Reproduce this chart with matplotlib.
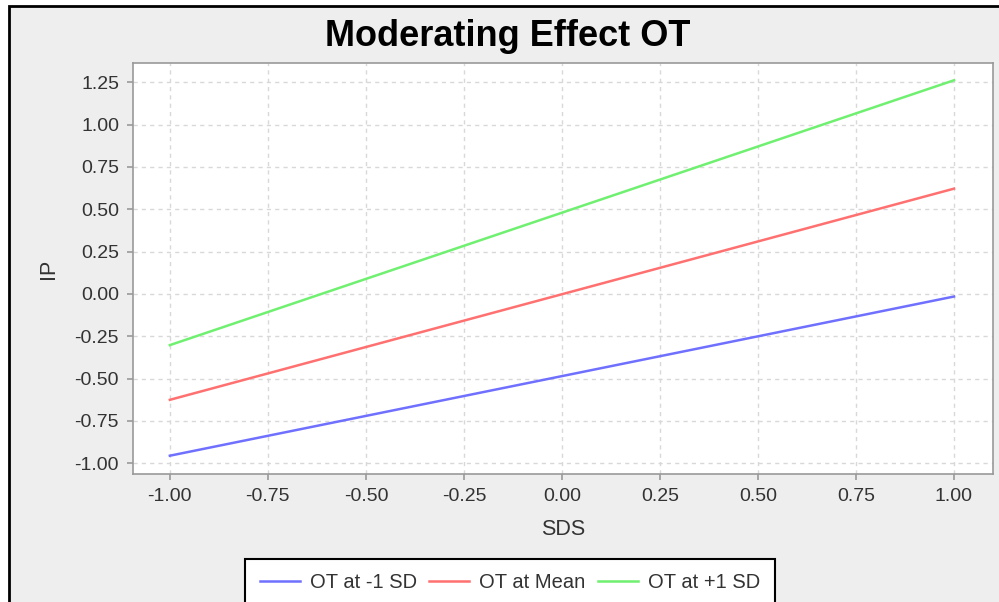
import matplotlib
matplotlib.use("Agg")
import matplotlib.pyplot as plt
from matplotlib.patches import Rectangle

plt.rcParams['font.family'] = ['Liberation Sans', 'DejaVu Sans']

# Data
sds = [-1.0, 1.0]
ot_minus = [-0.955, -0.015]
ot_mean = [-0.625, 0.622]
ot_plus = [-0.302, 1.262]
series_labels = ["OT at -1 SD", "OT at Mean", "OT at +1 SD"]
xticks = [-1.00, -0.75, -0.50, -0.25, 0.00, 0.25, 0.50, 0.75, 1.00]
yticks = [-1.00, -0.75, -0.50, -0.25, 0.00, 0.25, 0.50, 0.75, 1.00, 1.25]

W, H = 999, 602
fig = plt.figure(figsize=(W / 100, H / 100), dpi=100, facecolor='white')

# chart background panel with black border
fig.patches.append(Rectangle((9 / W, -0.1), 1.1, 1 - 6 / H + 0.1,
                             transform=fig.transFigure, facecolor='#eeeeee',
                             edgecolor='black', linewidth=2.0, zorder=-10))

ax = fig.add_axes([133 / W, 1 - 474 / H, (993 - 133) / W, (474 - 63) / H])
ax.set_zorder(1)
ax.set_facecolor('white')

colors = ['#7070ff', '#ff7070', '#70f070']
for ys, lab, c in zip([ot_minus, ot_mean, ot_plus], series_labels, colors):
    ax.plot(sds, ys, color=c, linewidth=1.8, label=lab)

ax.set_xlim(-1.094, 1.0995)
ax.set_ylim(-1.063, 1.364)
ax.set_xticks(xticks)
ax.set_yticks(yticks)
ax.set_xticklabels([f"{v:.2f}" for v in xticks])
ax.set_yticklabels([f"{v:.2f}" for v in yticks])

ax.grid(True, color='#d8d8d8', linestyle=(0, (3, 3)), linewidth=1.0)
ax.set_axisbelow(True)
for s in ax.spines.values():
    s.set_color('#999999')
    s.set_linewidth(1.2)
ax.tick_params(axis='both', colors='#999999', labelcolor='#333333',
               labelsize=14, length=4, width=1.2, direction='out', pad=6)

ax.set_xlabel("SDS", fontsize=15.5, color='#333333', labelpad=10)
ax.set_ylabel("IP", fontsize=15.5, color='#333333', labelpad=11)

fig.text(508 / W, 1 - 32 / H, "Moderating Effect OT", ha='center', va='center_baseline',
         fontsize=26, fontweight='bold', color='black')

leg = fig.legend(loc='upper center', bbox_to_anchor=(510 / W, 1 - 559 / H),
                 ncol=3, frameon=True, fancybox=False, fontsize=14.5,
                 edgecolor='black', facecolor='white', framealpha=1.0,
                 handlelength=2.0, handletextpad=0.5, columnspacing=0.6,
                 borderpad=0.7, borderaxespad=0.0, labelcolor='#333333')
leg.get_frame().set_linewidth(1.5)
leg.set_zorder(5)

fig.savefig("out.png", dpi=100, facecolor=fig.get_facecolor())
